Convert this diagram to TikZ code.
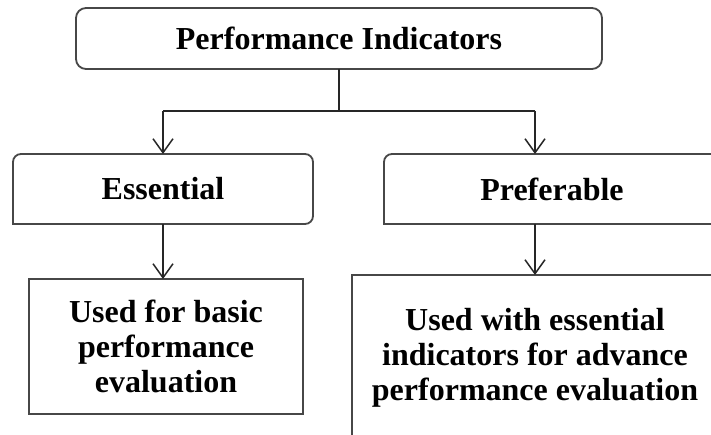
\documentclass[tikz,border=0pt]{standalone}
\usepackage{fontspec}
\setmainfont{Liberation Serif}
\usetikzlibrary{arrows.meta}
\begin{document}
\begin{tikzpicture}[x=1pt,y=1pt,
  boxtext/.style={font=\fontsize{32}{35}\selectfont\bfseries, align=center, inner sep=0pt, outer sep=0pt},
  boxline/.style={draw=black!72, line width=1.8pt},
  conn/.style={draw=black!85, line width=1.5pt},
  arr/.style={conn, -{Straight Barb[length=14pt,width=20pt,line width=1.5pt]}}]
\useasboundingbox (0,0) rectangle (711,435);
\fill[white] (0,0) rectangle (711,435);
\clip (0,0) rectangle (711,435);

% top box
\node[boxtext, boxline, rounded corners=10pt, minimum width=526pt, minimum height=61pt] (T) at (339,396.5) {Performance Indicators};

% second row
\node[boxtext, minimum width=300pt, minimum height=70pt] (E) at (163,246) {Essential};
\draw[boxline] (E.south west) -- ([yshift=-8pt]E.north west) arc[start angle=180,end angle=90,radius=8pt]
  -- ([xshift=-8pt]E.north east) arc[start angle=90,end angle=0,radius=8pt]
  -- ([yshift=8pt]E.south east) arc[start angle=0,end angle=-90,radius=8pt] -- cycle;

\node[boxtext, minimum width=336pt, minimum height=70pt] (P) at (552,246) {Preferable};
\draw[boxline] (P.south east) -- (P.south west) -- ([yshift=-8pt]P.north west) arc[start angle=180,end angle=90,radius=8pt] -- (P.north east);

% third row
\node[boxtext, boxline, minimum width=274pt, minimum height=135pt] (B1) at (166,88.5) {Used for basic\\performance\\evaluation};
\node[boxtext, boxline, minimum width=366pt, minimum height=165pt] (B2) at (535,77.5) {Used with essential\\indicators for advance\\performance evaluation};

% connectors
\coordinate (J) at (339,324);
\coordinate (JR) at (535,324);
\draw[conn] (T.south) -- (J);
\draw[conn] (E.north |- J) -- (JR);
\draw[arr] (E.north |- J) -- (E.north);
\draw[arr] (JR) -- (JR |- P.north);
\draw[arr] (E.south) -- (E.south |- B1.north);
\draw[arr] (JR |- P.south) -- (B2.north);
\end{tikzpicture}
\end{document}
